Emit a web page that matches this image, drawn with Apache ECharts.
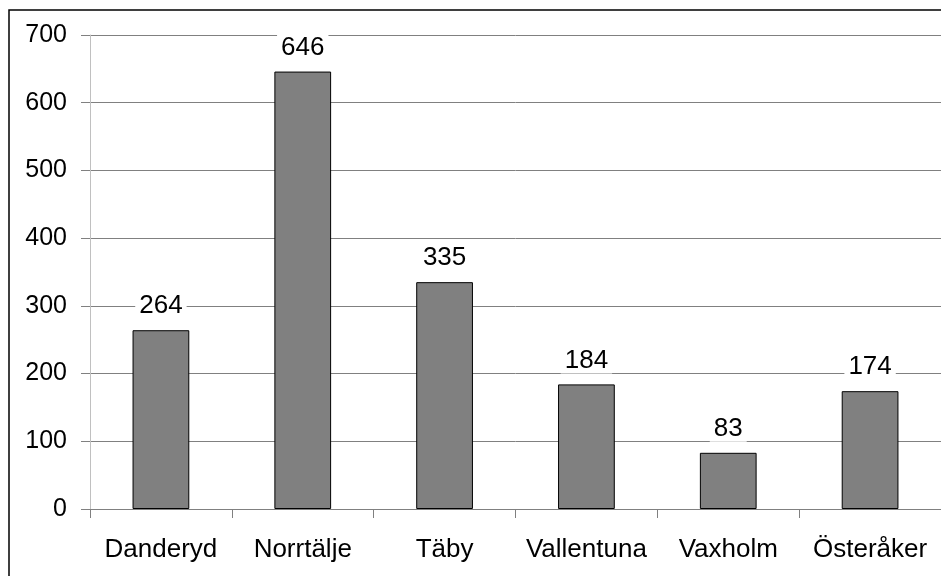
<!DOCTYPE html>
<html>
<head>
<meta charset="utf-8">
<script src="https://cdn.jsdelivr.net/npm/echarts@6/dist/echarts.min.js"></script>
<style>
  html, body { margin: 0; padding: 0; background: #fff; }
  #chart { width: 941px; height: 576px; }
</style>
</head>
<body>
<div id="chart"></div>
<script>
// Municipalities and their counts
const categories = ['Danderyd', 'Norrtälje', 'Täby', 'Vallentuna', 'Vaxholm', 'Österåker'];
const values = [264, 646, 335, 184, 83, 174];
const yTicks = { min: 0, max: 700, interval: 100 };

const chart = echarts.init(document.getElementById('chart'));
chart.setOption({
  animation: false,
  backgroundColor: '#ffffff',
  textStyle: { fontFamily: 'Liberation Sans, Arial, sans-serif' },
  grid: { left: 90, right: -1, top: 35, bottom: 67 },
  graphic: [{
    type: 'rect',
    shape: { x: 9, y: 10, width: 1200, height: 1000 },
    style: { fill: 'none', stroke: '#000', lineWidth: 1.5 },
    z: 100
  }],
  xAxis: {
    type: 'category',
    data: categories,
    axisLine: { lineStyle: { color: '#808080', width: 1 } },
    axisTick: { show: true, interval: 0, length: 9, lineStyle: { color: '#808080' } },
    axisLabel: { color: '#000', fontSize: 26, margin: 28, interval: 0, hideOverlap: false }
  },
  yAxis: {
    type: 'value',
    min: yTicks.min, max: yTicks.max, interval: yTicks.interval,
    axisLine: { show: true, lineStyle: { color: '#c0c0c0', width: 1 } },
    axisTick: { show: true, length: 9, lineStyle: { color: '#808080' } },
    axisLabel: { color: '#000', fontSize: 25, margin: 23 },
    splitLine: { show: true, lineStyle: { color: '#808080', width: 1 } }
  },
  series: [{
    type: 'bar',
    data: values,
    barWidth: '40%',
    itemStyle: { color: '#808080', borderColor: '#000', borderWidth: 1 },
    label: {
      show: true,
      position: 'top',
      distance: 11,
      color: '#000',
      fontSize: 26,
      backgroundColor: '#fff',
      padding: [3, 4, 0, 4]
    }
  }]
});
</script>
</body>
</html>
